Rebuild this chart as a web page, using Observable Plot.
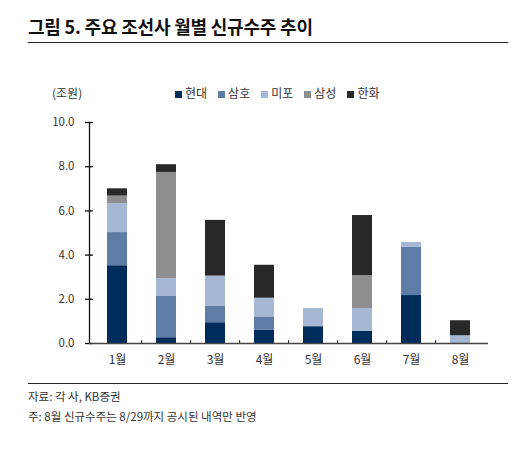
<!DOCTYPE html>
<html>
<head>
<meta charset="utf-8">
<script src="https://cdn.jsdelivr.net/npm/d3@7"></script>
<script src="https://cdn.jsdelivr.net/npm/@observablehq/plot@0.6"></script>
<style>
  body { margin: 0; background: #fff; font-family: "Noto Sans CJK KR", sans-serif; }
  #wrap { position: relative; width: 521px; height: 450px; }
  #title { position: absolute; left: 28px; top: 13px; font-size: 18px; font-weight: bold; color: #111; letter-spacing: -0.2px; }
  .hline { position: absolute; left: 28px; width: 480px; height: 1px; background: #222; }
  #unit { position: absolute; left: 52px; top: 84px; font-size: 12px; color: #333; }
  #legend { position: absolute; left: 175px; top: 84px; font-size: 12px; color: #333; display: flex; gap: 11px; }
  #legend span.sw { display: inline-block; width: 7px; height: 7px; margin-right: 3px; vertical-align: 0px; }
  #chart { position: absolute; left: 0; top: 75px; }
  .note { position: absolute; left: 28px; font-size: 11.5px; color: #333; }
</style>
</head>
<body>
<div id="wrap">
  <div id="title">그림 5. 주요 조선사 월별 신규수주 추이</div>
  <div class="hline" style="top:42px"></div>
  <div id="unit">(조원)</div>
  <div id="legend"></div>
  <div id="chart"></div>
  <div class="hline" style="top:383px"></div>
  <div class="note" style="top:388px">자료: 각 사, KB증권</div>
  <div class="note" style="top:408px">주: 8월 신규수주는 8/29까지 공시된 내역만 반영</div>
</div>
<script>
const months = ["1월", "2월", "3월", "4월", "5월", "6월", "7월", "8월"];
const companies = ["현대", "삼호", "미포", "삼성", "한화"];
const colors = ["#002c5c", "#5e7da6", "#a5b7d2", "#8e8e8e", "#282828"];
const hyundai = [3.52, 0.26, 0.94, 0.61, 0.76, 0.55, 2.17, 0];
const samho   = [1.50, 1.89, 0.76, 0.59, 0, 0, 2.19, 0];
const mipo    = [1.31, 0.78, 1.35, 0.85, 0.82, 1.03, 0.21, 0.35];
const samsung = [0.34, 4.81, 0, 0, 0, 1.49, 0, 0];
const hanwha  = [0.33, 0.35, 2.52, 1.49, 0, 2.72, 0, 0.68];
const yTicks = [0, 2, 4, 6, 8, 10];

const series = [hyundai, samho, mipo, samsung, hanwha];
const data = [];
months.forEach((m, i) => {
  companies.forEach((c, j) => {
    data.push({month: m, company: c, value: series[j][i]});
  });
});

const legend = document.getElementById("legend");
companies.forEach((c, j) => {
  const item = document.createElement("div");
  item.innerHTML = `<span class="sw" style="background:${colors[j]}"></span>${c}`;
  legend.appendChild(item);
});

const W = 521, ml = 89, mr = 33;
const half = (W - ml - mr) / months.length / 2;

const chart = Plot.plot({
  width: W,
  height: 300,
  marginTop: 47,
  marginBottom: 32,
  marginLeft: ml,
  marginRight: mr,
  style: {fontFamily: "'Noto Sans CJK KR', sans-serif", fontSize: "11px", color: "#333", background: "transparent"},
  x: {domain: months, paddingInner: 0.6, paddingOuter: 0.3, label: null},
  y: {domain: [0, 10], label: null},
  color: {domain: companies, range: colors},
  marks: [
    Plot.barY(data, {x: "month", y: "value", z: "company", fill: "company"}),
    Plot.frame({anchor: "left", stroke: "#111", strokeWidth: 1.3}),
    Plot.axisY({ticks: yTicks, tickSize: 4, tickPadding: 11, tickFormat: d3.format(".1f"), fontSize: 11.5, stroke: "#111", strokeWidth: 1.3}),
    Plot.axisY({ticks: yTicks, tickSize: 4, text: null, dx: 4, stroke: "#111", strokeWidth: 1.3}),
    Plot.ruleX(months.slice(1), {x: d => d, dx: -half, y1: 0, y2: 0.13, stroke: "#333", strokeWidth: 1.2}),
    Plot.ruleY([0], {stroke: "#444", strokeWidth: 1.6}),
    Plot.axisX({tickSize: 0, tickPadding: 12, fontSize: 12})
  ]
});
document.getElementById("chart").append(chart);
</script>
</body>
</html>
